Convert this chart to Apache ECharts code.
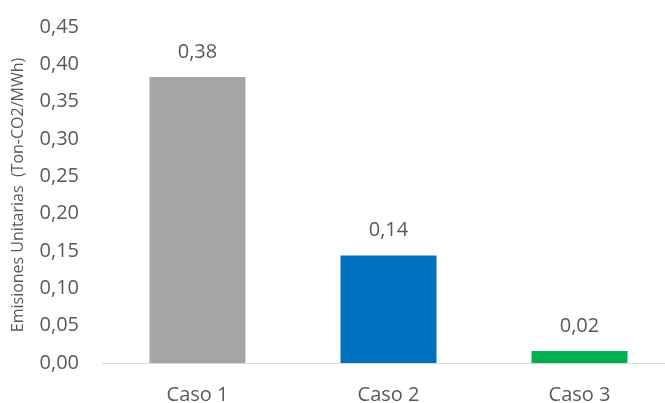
<!DOCTYPE html>
<html>
<head>
<meta charset="utf-8">
<script src="https://cdn.jsdelivr.net/npm/echarts@6/dist/echarts.min.js"></script>
<style>
  html, body { margin: 0; padding: 0; background: #fff; }
  #chart { width: 665px; height: 403px; }
</style>
</head>
<body>
<div id="chart"></div>
<script>
const categories = ['Caso 1', 'Caso 2', 'Caso 3'];
const values = [0.383, 0.144, 0.016];
const barColors = ['#A5A5A5', '#0070C0', '#00B050'];
const yAxisName = 'Emisiones Unitarias  (Ton-CO2/MWh)';

const fmt = v => v.toFixed(2).replace('.', ',');
const textColor = '#595959';
const font = 'Open Sans';

const chart = echarts.init(document.getElementById('chart'), null, { renderer: 'canvas' });
chart.setOption({
  animation: false,
  grid: {
    left: 102, width: 573, top: 27, bottom: 40,
    containLabel: false,
    outerBoundsMode: 'none'
  },
  xAxis: {
    type: 'category',
    data: categories,
    axisLine: { lineStyle: { color: '#D9D9D9', width: 1 } },
    axisTick: { show: false },
    axisLabel: { color: textColor, fontFamily: font, fontSize: 20, margin: 22 }
  },
  yAxis: {
    type: 'value',
    min: 0,
    max: 0.45,
    interval: 0.05,
    name: yAxisName,
    nameLocation: 'middle',
    nameGap: 76,
    nameTextStyle: { color: textColor, fontFamily: font, fontSize: 16 },
    axisLine: { show: false },
    axisTick: { show: false },
    splitLine: { show: false },
    axisLabel: { color: textColor, fontFamily: font, fontSize: 20, margin: 23, formatter: fmt }
  },
  series: [{
    type: 'bar',
    barWidth: 96,
    data: values.map((v, i) => ({ value: v, itemStyle: { color: barColors[i] } })),
    label: {
      show: true,
      position: 'top',
      distance: 15,
      color: textColor,
      fontFamily: font,
      fontSize: 20,
      formatter: p => fmt(p.value)
    }
  }]
});
</script>
</body>
</html>
